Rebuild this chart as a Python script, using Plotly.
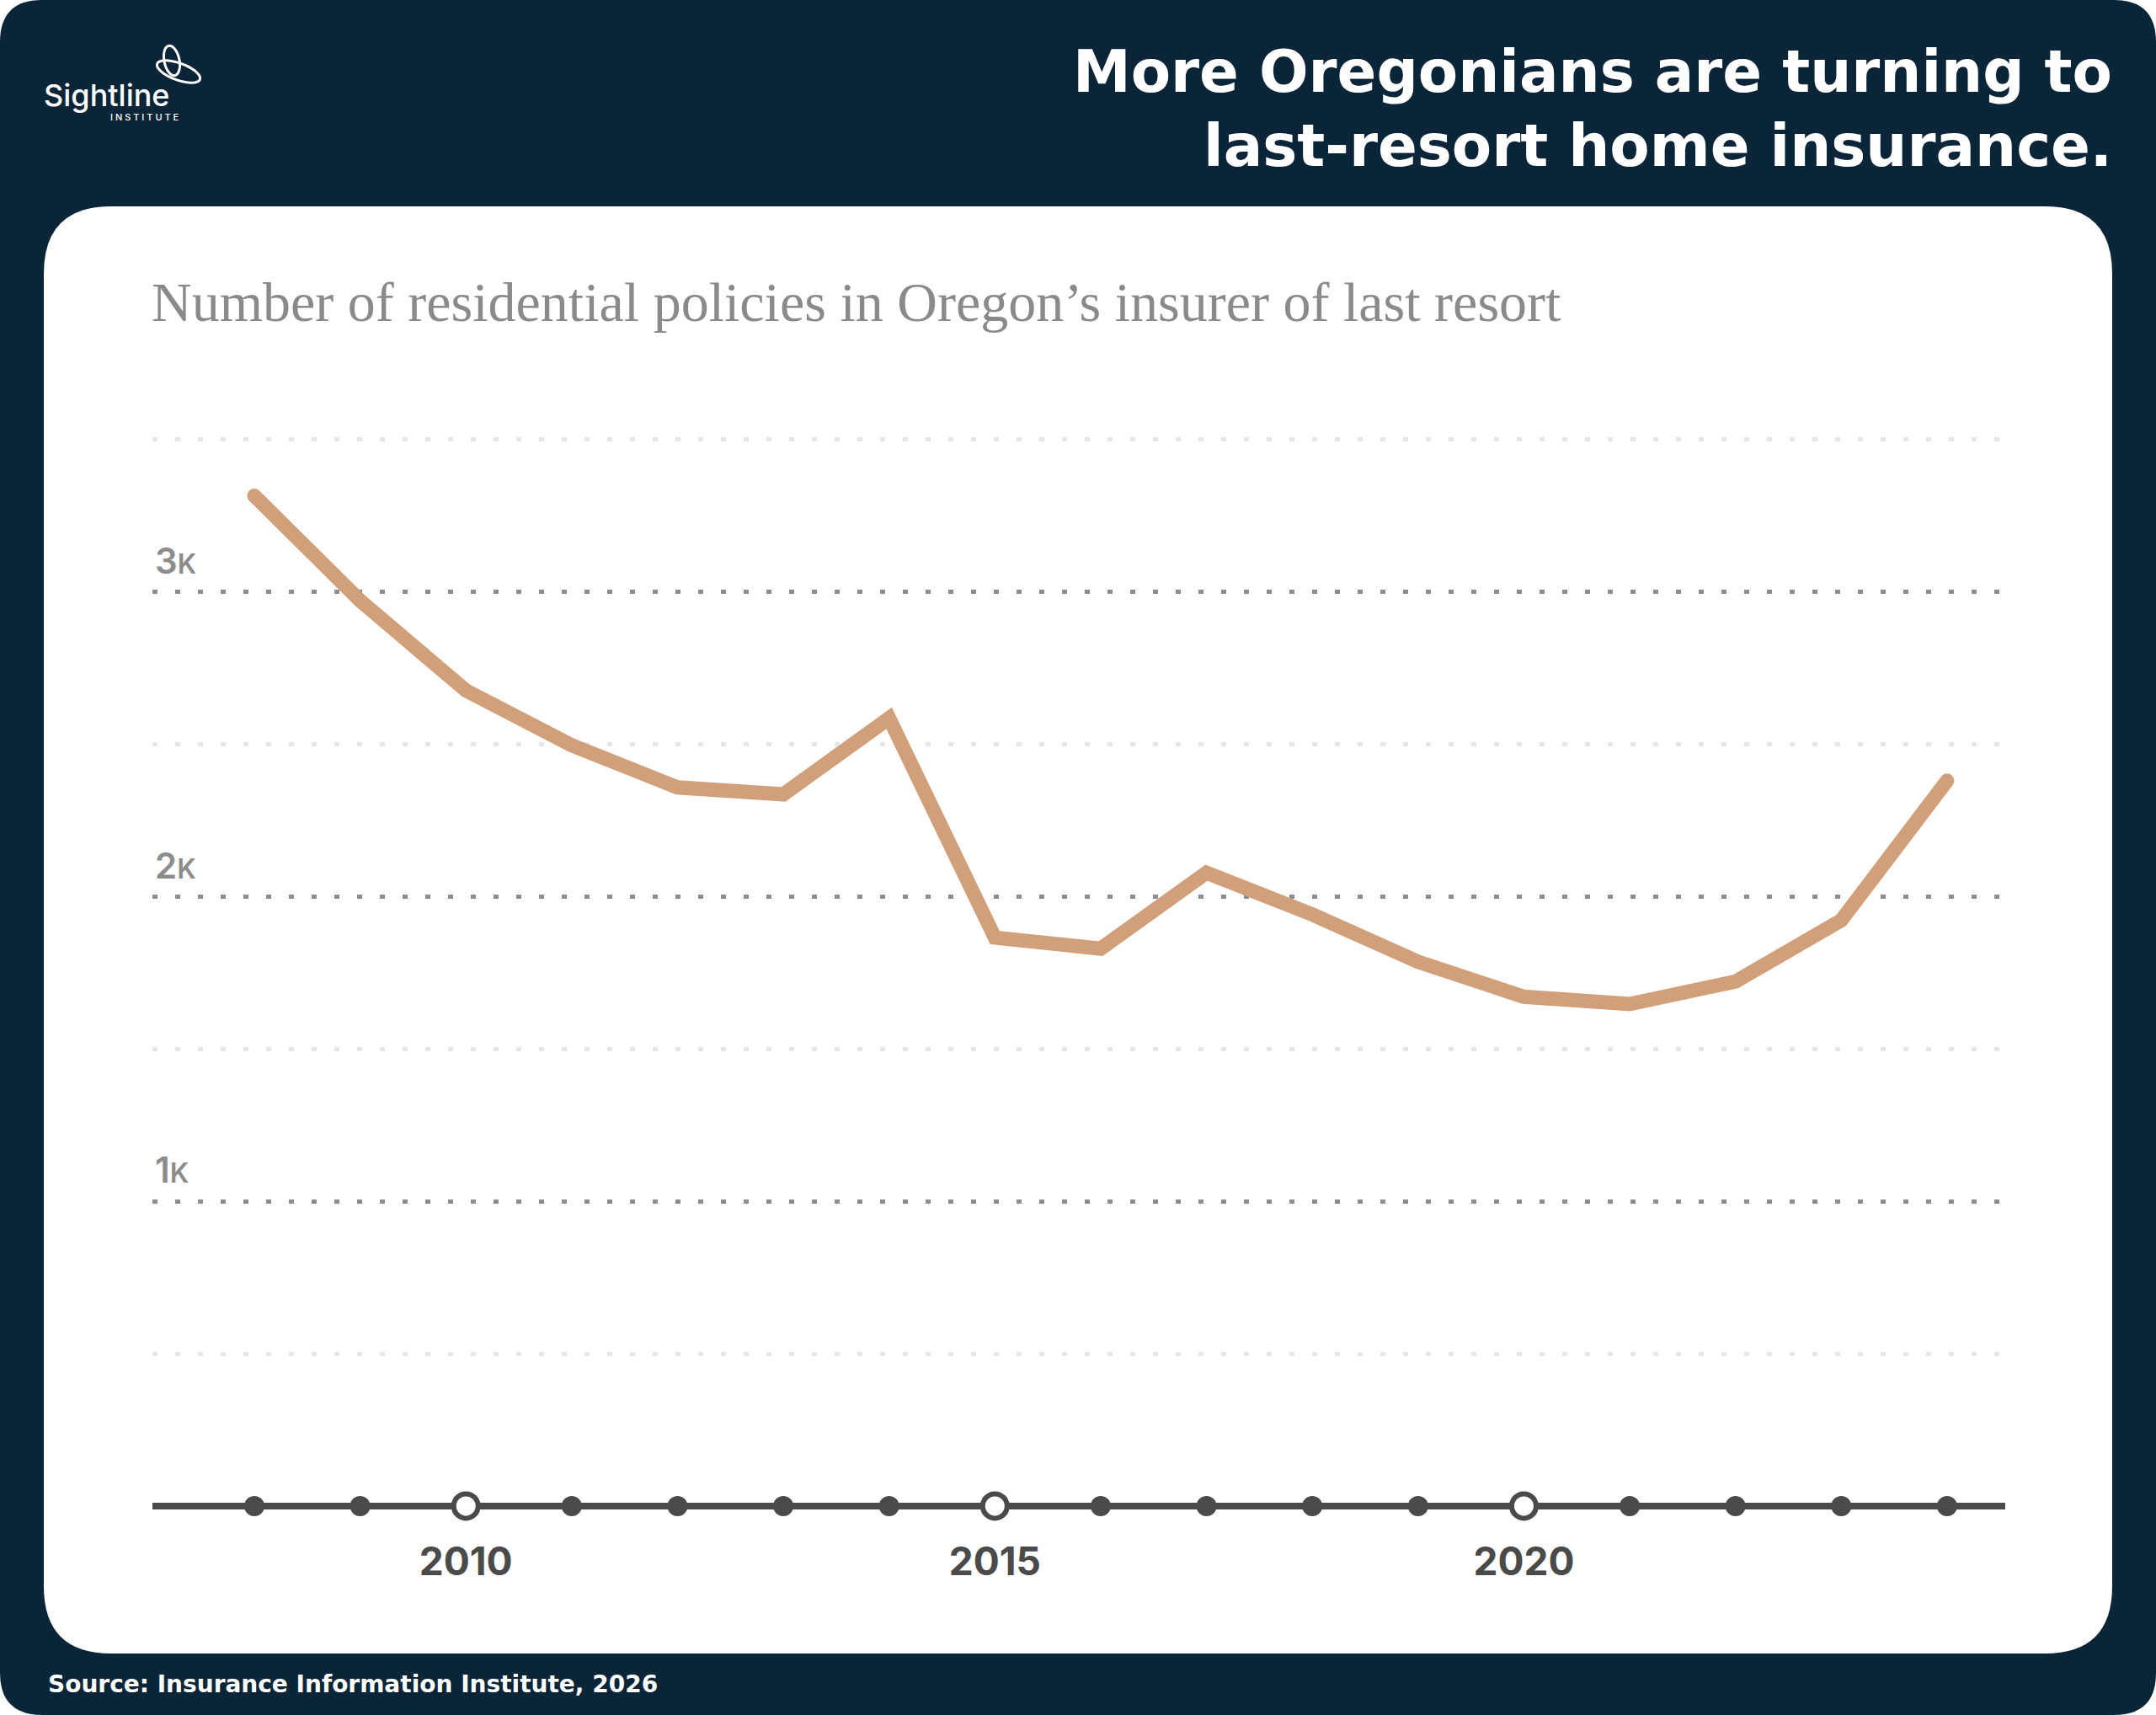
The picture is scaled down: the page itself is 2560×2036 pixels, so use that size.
import plotly.graph_objects as go
import math

# ---------------- data ----------------
years = list(range(2008, 2025))
policies = [3315, 2971, 2676, 2496, 2358, 2335, 2585, 1865, 1829, 2078, 1941, 1786, 1671, 1647, 1721, 1922, 2380]
label_years = [2010, 2015, 2020]
label_text = ["2010", "2015", "2020"]
y_ticks = [1000, 2000, 3000]
y_ticktext = ["1<span style='font-size:32px'>K</span>",
              "2<span style='font-size:32px'>K</span>",
              "3<span style='font-size:32px'>K</span>"]
y_minor = [500, 1500, 2500, 3500]

title_lines = ["More Oregonians are turning to", "last-resort home insurance."]
subtitle = "Number of residential policies in Oregon\u2019s insurer of last resort"
source = "Source: Insurance Information Institute, 2026"

# ---------------- geometry helpers ----------------
W, H = 2560, 2036
L, R, T, B = 181, 179, 500, 236
PW, PH = W - L - R, H - T - B

def px(x):
    return (x - L) / PW

def py(y):
    return (H - B - y) / PH

def rrect(x0, y0, x1, y1, r):
    k = [
        (x0 + r, y0), (x1 - r, y0), "Q", (x1, y0), (x1, y0 + r),
        (x1, y1 - r), "Q", (x1, y1), (x1 - r, y1),
        (x0 + r, y1), "Q", (x0, y1), (x0, y1 - r),
        (x0, y0 + r), "Q", (x0, y0), (x0 + r, y0),
    ]
    def p(pt):
        return f"{px(pt[0]):.6f},{py(pt[1]):.6f}"
    s = "M " + p(k[0]) + " L " + p(k[1])
    i = 2
    while i < len(k):
        if k[i] == "Q":
            s += " Q " + p(k[i + 1]) + " " + p(k[i + 2])
            i += 3
        else:
            s += " L " + p(k[i])
            i += 1
    return s + " Z"

def ellipse(cx, cy, a, b, ang, n=60):
    t = math.radians(ang)
    pts = []
    for i in range(n + 1):
        th = 2 * math.pi * i / n
        x = a * math.cos(th)
        y = b * math.sin(th)
        X = cx + x * math.cos(t) - y * math.sin(t)
        Y = cy + x * math.sin(t) + y * math.cos(t)
        pts.append(f"{px(X):.6f},{py(Y):.6f}")
    return "M " + " L ".join(pts) + " Z"

NAVY = "#0a2538"
LINE_C = "#d1a07a"
AXIS_C = "#4a4a4a"
GRID_MAJ = "#8c8c8c"
GRID_MIN = "#e6e6e6"

fig = go.Figure()

# axis dots
fig.add_trace(go.Scatter(
    x=years, y=[0] * len(years), mode="markers",
    marker=dict(size=24, color=AXIS_C, line=dict(width=0)),
    cliponaxis=False, hoverinfo="skip", showlegend=False))
fig.add_trace(go.Scatter(
    x=label_years, y=[0] * len(label_years), mode="markers",
    marker=dict(size=29, color="white", line=dict(width=6, color=AXIS_C)),
    cliponaxis=False, hoverinfo="skip", showlegend=False))

# main line
fig.add_trace(go.Scatter(
    x=years, y=policies, mode="lines",
    line=dict(color=LINE_C, width=17),
    cliponaxis=False, hoverinfo="skip", showlegend=False))
fig.add_trace(go.Scatter(
    x=[years[0], years[-1]], y=[policies[0], policies[-1]], mode="markers",
    marker=dict(size=17, color=LINE_C, line=dict(width=0)),
    cliponaxis=False, hoverinfo="skip", showlegend=False))

shapes = [
    dict(type="path", xref="paper", yref="paper", path=rrect(0, 0, W, H, 50),
         fillcolor=NAVY, line=dict(width=0), layer="below"),
    dict(type="path", xref="paper", yref="paper", path=rrect(52, 245, 2508, 1963, 80),
         fillcolor="white", line=dict(width=0), layer="below"),
    dict(type="path", xref="paper", yref="paper", path=ellipse(204, 72, 9, 18, -12),
         fillcolor="rgba(0,0,0,0)", line=dict(width=3, color="white"), layer="above"),
    dict(type="path", xref="paper", yref="paper", path=ellipse(212, 85, 27, 10, 20),
         fillcolor="rgba(0,0,0,0)", line=dict(width=3, color="white"), layer="above"),
]

TITLE_FONT = dict(family="DejaVu Sans, sans-serif", size=69, color="white", weight=700)
annotations = [
    dict(text=title_lines[0], x=px(2510), y=py(85), xref="paper", yref="paper",
         xanchor="right", yanchor="middle", showarrow=False, font=TITLE_FONT),
    dict(text=title_lines[1], x=px(2510), y=py(173), xref="paper", yref="paper",
         xanchor="right", yanchor="middle", showarrow=False, font=TITLE_FONT),
    dict(text=subtitle, x=px(178), y=py(358), xref="paper", yref="paper",
         xanchor="left", yanchor="middle", showarrow=False,
         font=dict(family="Liberation Serif, serif", size=66, color="#8a8a8a")),
    dict(text=source, x=px(55), y=py(1999), xref="paper", yref="paper",
         xanchor="left", yanchor="middle", showarrow=False,
         font=dict(family="DejaVu Sans, sans-serif", size=28, color="white", weight=700)),
    dict(text="Sightline", x=px(50), y=py(113), xref="paper", yref="paper",
         xanchor="left", yanchor="middle", showarrow=False,
         font=dict(family="Inter, sans-serif", size=36, color="white", weight=500)),
    dict(text="I N S T I T U T E", x=px(171), y=py(139), xref="paper", yref="paper",
         xanchor="center", yanchor="middle", showarrow=False,
         font=dict(family="Inter, sans-serif", size=11, color="white", weight=500)),
]

fig.update_layout(
    width=W, height=H, autosize=False,
    margin=dict(l=L, r=R, t=T, b=B, pad=0),
    paper_bgcolor="white", plot_bgcolor="rgba(0,0,0,0)",
    shapes=shapes, annotations=annotations, showlegend=False,
    xaxis=dict(
        range=[2007.037, 2024.55], tickmode="array", tickvals=label_years, ticktext=label_text,
        showgrid=False, zeroline=False, showline=False, ticks="",
        tickfont=dict(family="Inter, sans-serif", size=46, color=AXIS_C, weight=700),
        ticklabelstandoff=23, fixedrange=True),
    yaxis=dict(
        range=[-33.4, 3559.7], tickmode="array", tickvals=y_ticks, ticktext=y_ticktext,
        ticklabelposition="inside top", ticks="", ticklabelshift=-7,
        showgrid=True, gridcolor=GRID_MAJ, gridwidth=5, griddash="6px,21px",
        minor=dict(tickmode="array", tickvals=y_minor, showgrid=True, gridcolor=GRID_MIN,
                   gridwidth=5, griddash="6px,21px", ticks=""),
        zeroline=True, zerolinecolor=AXIS_C, zerolinewidth=8, showline=False,
        tickfont=dict(family="Inter, sans-serif", size=42, color=GRID_MAJ, weight=600),
        fixedrange=True),
)

fig.write_html("out.html")
